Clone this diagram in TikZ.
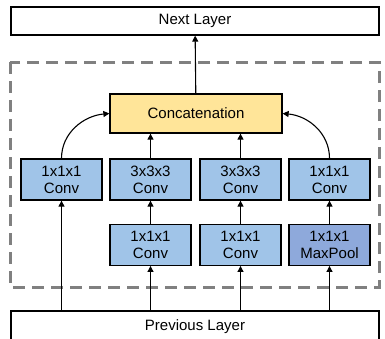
\documentclass[tikz,border=0pt]{standalone}
\usepackage{fontspec}
\setmainfont{Liberation Sans}
\usetikzlibrary{positioning,arrows.meta}

\definecolor{convblue}{RGB}{160,196,232}
\definecolor{poolblue}{RGB}{142,169,219}
\definecolor{catyellow}{RGB}{255,229,153}

\tikzset{
  layer/.style = {draw, line width=1.3pt, minimum width=368pt, minimum height=28pt, inner sep=0pt},
  block/.style = {draw, line width=1.3pt, fill=convblue, minimum width=81pt, minimum height=41pt,
                  inner sep=0pt, align=center, font=\fontsize{15}{17}\selectfont},
  link/.style  = {line width=1.1pt, -{Triangle[length=6pt,width=6pt]}}
}

\begin{document}
\begin{tikzpicture}[x=1pt, y=-1pt, font=\fontsize{15}{17}\selectfont]
\useasboundingbox (0,0) rectangle (385,338);
\clip (0,0) rectangle (385,338);

% dashed frame of the inception block
\draw[gray, line width=3pt, dash pattern=on 12pt off 7pt] (10,62) rectangle (379,287);

\node[layer] (next) at (195,21) {Next Layer};
\node[layer, minimum height=32pt] (prev) at (195,327) {Previous Layer};

\node[block, fill=catyellow, minimum width=172pt, minimum height=39pt] (cat) at (196,113.5) {Concatenation};

% upper row
\node[block] (c1) at (61.5,179.5) {1x1x1\\Conv};
\node[block] (c3a) at (150.5,179.5) {3x3x3\\Conv};
\node[block] (c3b) at (240.5,179.5) {3x3x3\\Conv};
\node[block] (c1p) at (329.5,179.5) {1x1x1\\Conv};

% lower row
\node[block, below=23pt of c3a] (r1) {1x1x1\\Conv};
\node[block, below=23pt of c3b] (r2) {1x1x1\\Conv};
\node[block, below=23pt of c1p, fill=poolblue] (mp) {1x1x1\\MaxPool};

\draw[link] (cat) -- (next);
\draw[link] (c1.north) to[out=90, in=185] (cat.west);
\draw[link] (c1p.north) to[out=90, in=-5] (cat.east);
\draw[link] (c3a) -- (c3a |- cat.south);
\draw[link] (c3b) -- (c3b |- cat.south);

\draw[link] (r1) -- (c3a);
\draw[link] (r2) -- (c3b);
\draw[link] (mp) -- (c1p);

\draw[link] (c1 |- prev.north) -- (c1);
\draw[link] (r1 |- prev.north) -- (r1);
\draw[link] (r2 |- prev.north) -- (r2);
\draw[link] (mp |- prev.north) -- (mp);
\end{tikzpicture}
\end{document}
